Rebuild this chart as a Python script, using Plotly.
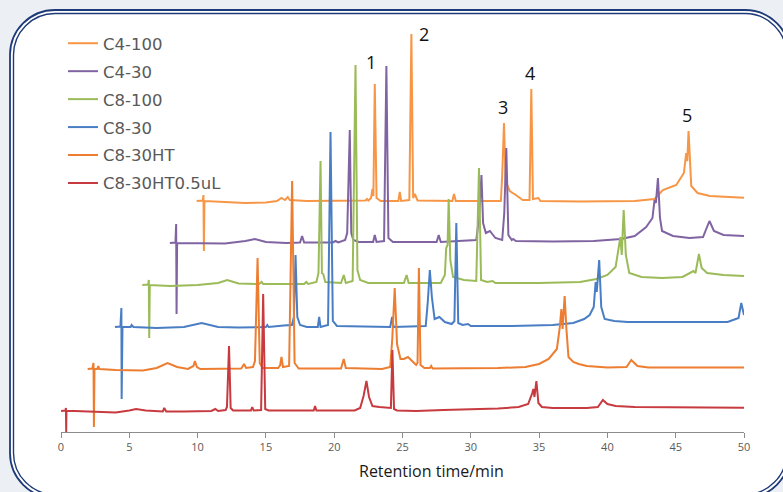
import plotly.graph_objects as go

# ---------------- data (times as displayed on the axis, intensities relative to each trace's baseline) ----------------
series_names = ["C4-100", "C4-30", "C8-100", "C8-30", "C8-30HT", "C8-30HT0.5uL"]
series_colors = ["#F79646", "#8064A2", "#9BBB59", "#4A7EC4", "#ED7D31", "#C73A3F"]

c4_100_t = [9.93, 10.38, 10.43, 10.46, 10.5, 12.0, 13.5, 15.0, 15.8, 16.14, 16.4, 16.6, 16.75, 18.0, 21.0, 22.3, 22.4, 22.5,
            22.7, 22.8, 22.87, 22.97, 23.1, 23.4, 24.7, 24.8, 24.9, 25.5, 25.65, 25.78, 25.9, 26.1, 28.65, 28.77, 28.9,
            32.2, 32.3, 32.43, 32.55, 32.85, 33.3, 33.8, 34.3, 34.43, 34.55, 34.95, 35.1, 38.0, 42.0, 43.45, 44.06, 45.04,
            45.6, 45.77, 45.85, 45.94, 46.14, 46.6, 47.5, 50.0]
c4_100_v = [0, 0.5, 6, -50, 0, -1, -2, -1.5, 0, 3, 1, 4, 1, 0, 0, 0.5, 2, 0.5,
            3, 12, 5, 117, 3, 0, 0, 9, 0, 1, 167, 3, 7, 0.5, 0, 7, 0,
            0, 26, 78, 20, 10, 6, 1, 1, 112, 2, 3, 0, -0.5, 0, 2, 11, 16,
            28, 48, 40, 70, 15, 8, 5, 3.3]

c4_30_t = [7.97, 8.38, 8.43, 8.46, 8.5, 10.0, 12.0, 13.5, 14.2, 15.0, 16.5, 17.5, 17.65, 17.8, 19.9, 20.1, 20.3, 20.8,
           20.95, 21.14, 21.25, 21.4, 21.8, 22.85, 22.97, 23.1, 23.65, 23.82, 23.97, 24.3, 27.5, 27.65, 27.8, 30.4, 30.6,
           30.78, 30.9, 31.1, 31.4, 31.8, 32.3, 32.45, 32.6, 32.75, 33.0, 33.1, 33.3, 36.0, 39.0, 41.0, 42.0, 42.84, 43.3,
           43.45, 43.55, 43.7, 43.85, 44.0, 44.8, 46.0, 47.0, 47.47, 47.8, 48.5, 50.0]
c4_30_v = [0, 0.5, 19, -71, 0, 0, -0.5, 2, 4, 1, 0, 0.5, 7, 0.5, 0.5, 2, 0.5, 3,
           10, 113, 10, 3, 1, 1, 8, 1, 2, 177, 5, 1, 1, 8, 1, 3, 25,
           68, 20, 10, 12, 5, 3, 30, 95, 8, 3, 4, 2, 1.5, 2, 4, 7, 16, 25,
           43, 40, 65, 25, 12, 7, 5, 6, 22, 12, 8, 7]

c8_100_t = [5.95, 6.38, 6.43, 6.46, 6.5, 8.0, 10.0, 11.5, 12.17, 13.0, 14.5, 14.68, 14.8, 17.8, 17.95, 18.1, 18.7, 18.85,
            19.0, 19.1, 19.2, 19.35, 20.5, 20.7, 20.85, 21.35, 21.56, 21.7, 21.9, 22.5, 25.1, 25.3, 25.45, 27.8, 28.1,
            28.2, 28.3, 28.38, 28.5, 28.7, 29.5, 30.4, 30.6, 30.75, 31.2, 31.6, 31.8, 35.0, 38.0, 39.2, 40.0, 40.6,
            40.95, 41.05, 41.19, 41.35, 41.6, 42.5, 44.0, 45.5, 46.3, 46.45, 46.7, 46.9, 47.3, 48.5, 50.0]
c8_100_v = [0, 0.5, 5, -53, 0, -1, 0, 2, 5, 1.5, 1, 3, 1, 1, 3, 1, 3, 12,
            124, 12, 11, 3, 2, 10, 2, 4, 220, 15, 5, 2, 2, 10, 2, 2, 10,
            37, 40, 86, 25, 8, 5, 4, 117, 5, 3, 4, 2, 2, 3, 6, 10, 18,
            48, 30, 75, 30, 12, 8, 7, 8, 14, 12, 31, 17, 12, 10, 9]

c8_30_t = [3.95, 4.35, 4.42, 4.44, 4.5, 5.1, 5.17, 5.3, 7.0, 9.0, 10.3, 11.5, 13.0, 15.0, 15.1, 15.2, 16.3, 16.9, 17.05,
           17.17, 17.3, 17.5, 18.0, 18.8, 18.9, 19.0, 19.55, 19.73, 19.9, 20.2, 24.1, 24.24, 24.35, 26.7, 26.85, 27.0,
           27.15, 27.35, 27.7, 28.1, 28.6, 28.8, 28.94, 29.08, 29.4, 29.8, 30.0, 33.0, 36.0, 37.5, 38.3, 38.7, 39.0,
           39.14, 39.22, 39.4, 39.55, 39.8, 40.5, 41.5, 44.0, 47.0, 48.8, 49.4, 49.6, 49.8, 50.0]
c8_30_v = [0, 0.5, 19, -72, 0, 0, 2, 0, -1, 0, 4, 0, -0.5, 0, 2, 0, 1.5, 2, 10,
           72, 10, 2, 0, 0, 10, 0, 2, 195, 6, 1, 0, 10, 0, 1, 25, 57,
           30, 8, 10, 5, 3, 6, 104, 4, 2, 3, 1, 1, 2, 4, 8, 12, 20,
           45, 35, 67, 20, 8, 6, 5, 5, 5, 5, 8, 9, 24, 12]

c8_30ht_t = [1.95, 2.3, 2.38, 2.41, 2.45, 2.65, 2.73, 2.8, 4.0, 6.0, 7.0, 7.8, 8.5, 9.3, 9.7, 9.8, 9.95, 10.2, 13.2,
             13.4, 13.55, 14.05, 14.2, 14.39, 14.55, 14.75, 15.9, 16.05, 16.14, 16.25, 16.7, 16.92, 17.1, 17.4, 20.5,
             20.7, 20.85, 23.5, 24.1, 24.25, 24.43, 24.6, 24.85, 25.1, 25.4, 25.7, 26.0, 26.1, 26.2, 26.32, 26.6, 27.0,
             27.1, 27.2, 29.0, 32.0, 34.0, 35.0, 35.7, 36.0, 36.3, 36.5, 36.63, 36.72, 36.87, 37.0, 37.15, 37.5, 37.9,
             38.5, 40.0, 41.4, 41.75, 42.2, 43.0, 46.0, 50.0]
c8_30ht_v = [0, 0.5, 6, -58, 0, 0, 3, 0, -1, -1.5, 1, 6, 2, 0, 3, 8, 2, 0, 0.5,
             5, 1, 2, 8, 111, 6, 1, 1, 4, 12, 2, 3, 188, 6, 0.5, 0.5,
             10, 1, 0, 2, 30, 81, 25, 10, 10, 12, 8, 4, 6, 101, 4, 1, 1,
             3, 0.5, 0.5, 1, 2, 5, 10, 15, 20, 40, 60, 40, 73, 40, 12, 7, 5,
             3, 1.5, 2, 9, 3, 1.5, 1.5, 1.5]

c8_30ht05_t = [0.0, 0.33, 0.36, 0.38, 0.4, 1.0, 2.5, 4.0, 5.0, 5.5, 6.2, 7.0, 7.45, 7.56, 7.7, 9.0, 11.0, 11.3, 11.5,
               12.05, 12.15, 12.3, 12.42, 12.6, 13.9, 14.0, 14.1, 14.65, 14.8, 14.95, 15.2, 17.5, 18.5, 18.6, 18.7,
               21.5, 21.9, 22.15, 22.36, 22.55, 22.8, 23.3, 23.8, 24.15, 24.26, 24.38, 24.6, 26.0, 28.0, 30.0, 32.0,
               33.5, 34.2, 34.5, 34.58, 34.66, 34.8, 34.95, 35.2, 36.0, 38.5, 39.3, 39.67, 40.0, 40.6, 42.0, 45.0,
               48.0, 50.0]
c8_30ht05_v = [0, 0.5, 3, -21, 0, 0, -1, -1.5, 0.5, 2, 0.5, -0.5, -0.5, 3, -0.5, -0.5, 0, 2, 0,
               1, 4, 65, 3, 0.5, 0.5, 4, 0.5, 1, 117, 2, 0.5, 0.5, 0.5, 5, 0.5,
               0.5, 3, 15, 30, 14, 5, 4, 3, 3, 61, 2, 0.5, 0, 1, 1.5, 2.5,
               4, 7, 18, 22, 14, 30, 8, 4, 3, 3, 4, 11, 7, 5, 4, 3.5,
               3.5, 3.3]

series_t = [c4_100_t, c4_30_t, c8_100_t, c8_30_t, c8_30ht_t, c8_30ht05_t]
series_v = [c4_100_v, c4_30_v, c8_100_v, c8_30_v, c8_30ht_v, c8_30ht05_v]

peak_labels = ["1", "2", "3", "4", "5"]
peak_label_t = [22.7, 26.6, 32.35, 34.3, 45.8]
peak_label_v = [139, 167, 94, 128, 86]   # relative to the C4-100 baseline

x_ticks = [0, 5, 10, 15, 20, 25, 30, 35, 40, 45, 50]

# ---------------- layout geometry ----------------
W, H = 783, 492
ML, MR, MT, MB = 61, 39, 20, 60
PW, PH = W - ML - MR, H - MT - MB
Y_MAX = 412
STEP = 42
BASE0 = 21
n = len(series_names)
y_offsets = [BASE0 + STEP * (n - 1 - i) for i in range(n)]

fig = go.Figure()
for name, col, t, v, off in zip(series_names, series_colors, series_t, series_v, y_offsets):
    fig.add_trace(go.Scatter(
        x=t, y=[val + off for val in v], mode="lines", name=name, legendgroup=name,
        line=dict(color=col, width=2), hoverinfo="x+name"))

for lab, lt, lv in zip(peak_labels, peak_label_t, peak_label_v):
    fig.add_annotation(x=lt, y=lv + y_offsets[0], text=lab, showarrow=False,
                       font=dict(family="Open Sans", size=18, color="#111111"),
                       xanchor="center", yanchor="middle")

fig.add_annotation(xref="paper", yref="paper", x=(431 - ML) / PW, y=(H - MB - 471) / PH,
                   text="Retention time/min", showarrow=False,
                   font=dict(family="Open Sans", size=16, color="#1a1a1a"),
                   xanchor="center", yanchor="middle")


def px2paper(x, y):
    return (x - ML) / PW, (H - MB - y) / PH


def rounded_rect(x0, y0, x1, y1, r):
    k = 0.5523 * r
    pts = [("M", [(x0 + r, y0)]), ("L", [(x1 - r, y0)]),
           ("C", [(x1 - r + k, y0), (x1, y0 + r - k), (x1, y0 + r)]),
           ("L", [(x1, y1 - r)]),
           ("C", [(x1, y1 - r + k), (x1 - r + k, y1), (x1 - r, y1)]),
           ("L", [(x0 + r, y1)]),
           ("C", [(x0 + r - k, y1), (x0, y1 - r + k), (x0, y1 - r)]),
           ("L", [(x0, y0 + r)]),
           ("C", [(x0, y0 + r - k), (x0 + r - k, y0), (x0 + r, y0)])]
    s = ""
    for cmd, plist in pts:
        s += cmd + " " + " ".join("%.5f,%.5f" % px2paper(px, py) for px, py in plist) + " "
    return s + "Z"


navy = "#1E3A78"
fig.add_shape(type="path", xref="paper", yref="paper", path=rounded_rect(10, 10, 790, 498, 45),
              line=dict(color=navy, width=1.8), fillcolor="white", layer="below")
fig.add_shape(type="path", xref="paper", yref="paper", path=rounded_rect(13.5, 13.5, 786.5, 494.5, 41.5),
              line=dict(color=navy, width=1.4), fillcolor="rgba(0,0,0,0)", layer="below")

fig.update_layout(
    width=W, height=H, margin=dict(l=ML, r=MR, t=MT, b=MB),
    paper_bgcolor="#ECEFF4", plot_bgcolor="rgba(0,0,0,0)",
    template="none",
    xaxis=dict(range=[0, 50], tickvals=x_ticks, ticktext=[str(v) for v in x_ticks],
               showline=True, linecolor="#8C8C8C", linewidth=1, ticks="outside", ticklen=5,
               tickcolor="#8C8C8C", showgrid=False, zeroline=False,
               tickfont=dict(family="Open Sans", size=11, color="#595959")),
    yaxis=dict(range=[0, Y_MAX], visible=False, showgrid=False, zeroline=False),
    legend=dict(x=(63 - ML) / PW, y=(H - MB - 26) / PH, xanchor="left", yanchor="top",
                bgcolor="rgba(0,0,0,0)", tracegroupgap=3.5,
                font=dict(family="DejaVu Sans", size=16.5, color="#595959")),
    showlegend=True,
)

fig.write_html("out.html", config={"displayModeBar": False},
               post_script="document.body.style.margin='0';document.body.style.overflow='hidden';")
